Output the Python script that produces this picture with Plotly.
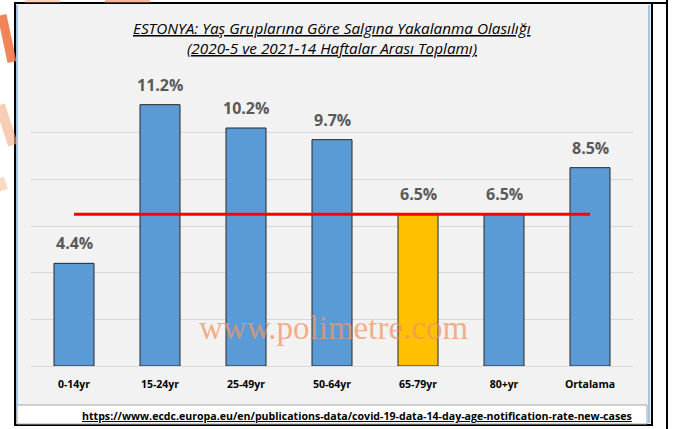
import plotly.graph_objects as go

categories = ["0-14yr", "15-24yr", "25-49yr", "50-64yr", "65-79yr", "80+yr", "Ortalama"]
values = [4.4, 11.2, 10.2, 9.7, 6.5, 6.5, 8.5]
reference_value = 6.5
y_ticks = [0, 2, 4, 6, 8, 10, 12]

bar_colors = ["#5b9bd5", "#5b9bd5", "#5b9bd5", "#5b9bd5", "#ffc000", "#5b9bd5", "#5b9bd5"]

W, H = 679, 429
ML, MR, MT, MB = 31, 46, 86, 63
PW = W - ML - MR
PH = H - MT - MB


def px(x):
    return (x - ML) / PW


def py(y):
    return (H - MB - y) / PH


fig = go.Figure()

fig.add_trace(go.Bar(
    x=categories, y=values,
    marker=dict(color=bar_colors, line=dict(color="#262626", width=1)),
    hoverinfo="skip",
))

fig.add_trace(go.Scatter(
    x=[categories[0], categories[-1]], y=[reference_value, reference_value],
    mode="lines", line=dict(color="#ff0000", width=3), hoverinfo="skip",
))

annotations = []
for c, v in zip(categories, values):
    annotations.append(dict(
        x=c, y=v, xref="x", yref="y", text=f"{v}%", showarrow=False,
        yanchor="bottom", yshift=7,
        font=dict(family="Open Sans", size=16, color="#595959", weight="bold"),
    ))

annotations.append(dict(
    x=px(332), y=py(28), xref="paper", yref="paper", showarrow=False,
    text="<i><u>ESTONYA: Yaş Gruplarına Göre Salgına Yakalanma Olasılığı</u></i>",
    font=dict(family="Open Sans", size=15.3, color="#000000"),
    xanchor="center", yanchor="middle",
))
annotations.append(dict(
    x=px(332), y=py(48), xref="paper", yref="paper", showarrow=False,
    text="<i><u>(2020-5 ve 2021-14 Haftalar Arası Toplamı)</u></i>",
    font=dict(family="Open Sans", size=15.3, color="#000000"),
    xanchor="center", yanchor="middle",
))
annotations.append(dict(
    x=px(634), y=py(416), xref="paper", yref="paper", showarrow=False,
    text="<u>https://www.ecdc.europa.eu/en/publications-data/covid-19-data-14-day-age-notification-rate-new-cases</u>",
    font=dict(family="Open Sans", size=10.6, color="#000000", weight="bold"),
    xanchor="right", yanchor="middle",
))
annotations.append(dict(
    x=px(333), y=py(328), xref="paper", yref="paper", showarrow=False,
    text="www.polimetre.com",
    font=dict(family="Liberation Serif", size=33, color="rgba(240,150,100,0.75)"),
    xanchor="center", yanchor="middle",
))

shapes = [
    # main frame
    dict(type="rect", xref="paper", yref="paper", x0=px(15), x1=px(652), y0=py(425), y1=py(3),
         fillcolor="#f2f2f2", line=dict(color="#000000", width=2), layer="below"),
    dict(type="line", xref="paper", yref="paper", x0=px(649), x1=px(649), y0=py(423), y1=py(5),
         line=dict(color="#5b9bd5", width=1), layer="below"),
    dict(type="line", xref="paper", yref="paper", x0=px(17), x1=px(17), y0=py(423), y1=py(5),
         line=dict(color="#5b9bd5", width=1), layer="below"),
    # url box
    dict(type="rect", xref="paper", yref="paper", x0=px(17), x1=px(647), y0=py(424), y1=py(405),
         fillcolor="#ffffff", line=dict(color="#a6a6a6", width=1), layer="below"),
    # outer page lines
    dict(type="line", xref="paper", yref="paper", x0=px(667), x1=px(667), y0=py(429), y1=py(0),
         line=dict(color="#000000", width=2), layer="below"),
    dict(type="line", xref="paper", yref="paper", x0=px(15), x1=px(667), y0=py(3), y1=py(3),
         line=dict(color="#000000", width=2), layer="below"),
    # logo fragments (orange) at left / top edge
    dict(type="line", xref="paper", yref="paper", x0=px(2), x1=px(12), y0=py(15), y1=py(62),
         line=dict(color="rgba(240,110,60,0.85)", width=9), layer="below"),
    dict(type="line", xref="paper", yref="paper", x0=px(0), x1=px(13), y0=py(105), y1=py(145),
         line=dict(color="rgba(245,170,130,0.6)", width=10), layer="below"),
    dict(type="line", xref="paper", yref="paper", x0=px(0), x1=px(4), y0=py(178), y1=py(190),
         line=dict(color="rgba(245,180,140,0.5)", width=8), layer="below"),
    dict(type="line", xref="paper", yref="paper", x0=px(25), x1=px(60), y0=py(1), y1=py(1),
         line=dict(color="rgba(245,180,140,0.6)", width=3), layer="below"),
    dict(type="line", xref="paper", yref="paper", x0=px(105), x1=px(150), y0=py(1), y1=py(1),
         line=dict(color="rgba(245,150,110,0.7)", width=3), layer="below"),
]

fig.update_layout(
    width=W, height=H,
    margin=dict(l=ML, r=MR, t=MT, b=MB),
    paper_bgcolor="#ffffff",
    plot_bgcolor="rgba(0,0,0,0)",
    showlegend=False,
    bargap=0.535,
    annotations=annotations,
    shapes=shapes,
    xaxis=dict(
        showgrid=False, showline=False, zeroline=False, ticks="",
        tickfont=dict(family="Open Sans", size=10.5, color="#000000", weight="bold"),
        ticklabelstandoff=10,
    ),
    yaxis=dict(
        range=[0, 12], tickvals=y_ticks, showticklabels=False,
        showgrid=True, gridcolor="#d9d9d9", gridwidth=1,
        zeroline=True, zerolinecolor="#d9d9d9", zerolinewidth=1,
        showline=False, ticks="",
    ),
)

fig.write_html("out.html", config={"displayModeBar": False})

with open("out.html", "r", encoding="utf-8") as f:
    html = f.read()
html = html.replace("<head>", "<head><style>html,body{margin:0;padding:0;overflow:hidden;}</style>", 1)
with open("out.html", "w", encoding="utf-8") as f:
    f.write(html)
